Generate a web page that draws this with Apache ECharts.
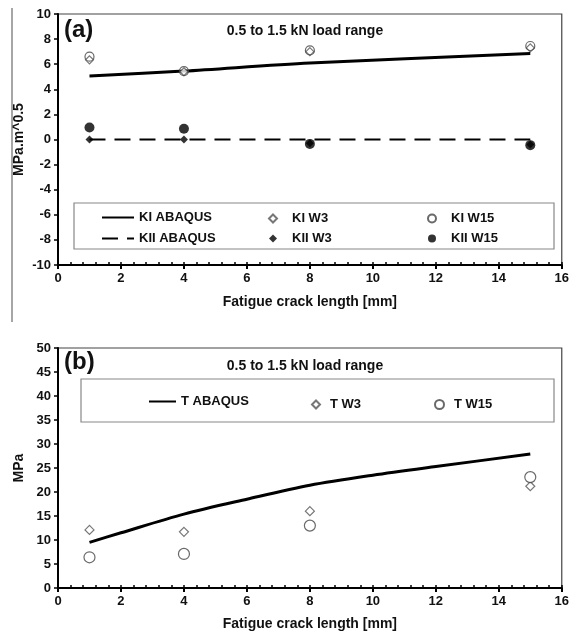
<!DOCTYPE html>
<html>
<head>
<meta charset="utf-8">
<script src="https://cdn.jsdelivr.net/npm/echarts@6/dist/echarts.min.js"></script>
<style>
html,body{margin:0;padding:0;background:#fff;}
#c{width:572px;height:635px;}
</style>
</head>
<body>
<div id="c"></div>
<script>
// ---- Data ----
const crackLen = [1, 4, 8, 15];
const kiAbaqus = [5.05, 5.45, 6.1, 6.85];
const kiW3 = [6.35, 5.4, 7.0, 7.3];
const kiW15 = [6.6, 5.45, 7.1, 7.45];
const kiiAbaqus = [0, 0, 0, 0];
const kiiW3 = [0, 0, -0.3, -0.4];
const kiiW15 = [0.95, 0.85, -0.35, -0.45];

const tAbaqusX = [1, 2, 4, 6, 8, 10, 12, 15];
const tAbaqus = [9.5, 11.5, 15.4, 18.5, 21.4, 23.5, 25.3, 27.9];
const tW3 = [12.1, 11.7, 16.0, 21.2];
const tW15 = [6.4, 7.1, 13.0, 23.1];

const subtitle = '0.5 to 1.5 kN load range';
const xTitle = 'Fatigue crack length [mm]';

const pair = (xs, ys) => xs.map((x, i) => [x, ys[i]]);
const FONT = '"Liberation Sans", Arial, sans-serif';
const tickLbl = {fontFamily: FONT, fontWeight: 'bold', fontSize: 13, color: '#111'};

function mainX(gi, name, gap) {
  return {
    type: 'value', gridIndex: gi, min: 0, max: 16, interval: 2,
    name: name, nameLocation: 'middle', nameGap: gap,
    nameTextStyle: {fontFamily: FONT, fontWeight: 'bold', fontSize: 14, color: '#111'},
    axisLine: {show: true, onZero: false, lineStyle: {color: '#000', width: 2}},
    axisTick: {show: true, length: 4, lineStyle: {color: '#000', width: 2}},
    axisLabel: Object.assign({margin: 7}, tickLbl),
    splitLine: {show: false}
  };
}
function minorX(gi) {
  return {
    type: 'value', gridIndex: gi, min: 0, max: 16, interval: 0.4, position: 'bottom',
    axisLine: {show: false, onZero: false}, axisLabel: {show: false},
    axisTick: {show: true, inside: true, length: 3, lineStyle: {color: '#000', width: 1.5}},
    splitLine: {show: false}
  };
}
function mainY(gi, min, max, interval, name, gap) {
  return {
    type: 'value', gridIndex: gi, min: min, max: max, interval: interval,
    name: name, nameLocation: 'middle', nameGap: gap, nameRotate: 90, nameMoveOverlap: false,
    nameTextStyle: {fontFamily: FONT, fontWeight: 'bold', fontSize: 14, color: '#111'},
    axisLine: {show: true, onZero: false, lineStyle: {color: '#000', width: 2}},
    axisTick: {show: true, length: 4, lineStyle: {color: '#000', width: 1.5}},
    axisLabel: Object.assign({margin: 7}, tickLbl),
    splitLine: {show: false}
  };
}

const openDiamond = {color: '#fff', borderColor: '#555', borderWidth: 1.2};
const openCircle = {color: '#fff', borderColor: '#444', borderWidth: 1.2};
const legText = {fontFamily: FONT, fontWeight: 'bold', fontSize: 13, color: '#111'};
const legTextPad = Object.assign({padding: [0, 0, 0, 10]}, legText);
const legTextPadB = Object.assign({padding: [0, 0, 0, 5]}, legText);
const noSym = {opacity: 0, borderWidth: 0};
const titleStyle = {fontFamily: FONT, fontWeight: 'bold', fontSize: 14, color: '#111'};

const chart = echarts.init(document.getElementById('c'), null, {renderer: 'canvas'});
chart.setOption({
  animation: false,
  backgroundColor: '#fff',
  grid: [
    {left: 58, top: 14, right: 8, height: 251, show: true, borderColor: '#444', borderWidth: 1.2, backgroundColor: 'transparent'},
    {left: 58, top: 348, right: 7, height: 240, show: true, borderColor: '#444', borderWidth: 1.2, backgroundColor: 'transparent'}
  ],
  title: [
    {text: subtitle, left: 300, top: 19, textAlign: 'center', textStyle: titleStyle},
    {text: subtitle, left: 300, top: 354, textAlign: 'center', textStyle: titleStyle}
  ],
  xAxis: [mainX(0, xTitle, 30), minorX(0), mainX(1, xTitle, 29), minorX(1)],
  yAxis: [mainY(0, -10, 10, 2, 'MPa.m^0.5', 32), mainY(1, 0, 50, 5, 'MPa', 32)],
  legend: [
    {data: ['KI ABAQUS', 'KII ABAQUS'], orient: 'vertical', left: 96, top: 206, itemWidth: 32, itemHeight: 14, itemGap: 8, itemStyle: noSym, textStyle: legText, selectedMode: false},
    {data: ['KI W3', 'KII W3'], orient: 'vertical', left: 263, top: 207, itemWidth: 8, itemHeight: 8, itemGap: 7, textStyle: legTextPad, selectedMode: false},
    {data: ['KI W15', 'KII W15'], orient: 'vertical', left: 422, top: 207, itemWidth: 8, itemHeight: 8, itemGap: 7, textStyle: legTextPad, selectedMode: false},
    {data: ['T ABAQUS'], left: 143, top: 390, itemWidth: 27, itemHeight: 14, itemStyle: noSym, textStyle: legText, selectedMode: false},
    {data: ['T W3'], left: 306, top: 393, itemWidth: 8, itemHeight: 8, textStyle: legTextPadB, selectedMode: false},
    {data: ['T W15'], left: 429, top: 393, itemWidth: 9, itemHeight: 9, textStyle: legTextPadB, selectedMode: false}
  ],
  graphic: [
    {type: 'line', shape: {x1: 12, y1: 8, x2: 12, y2: 322}, style: {stroke: '#888', lineWidth: 1.5}, z: 0},
    {type: 'rect', shape: {x: 74, y: 203, width: 480, height: 46}, style: {fill: '#fff', stroke: '#888', lineWidth: 1.2}, z: 1},
    {type: 'rect', shape: {x: 81, y: 379, width: 473, height: 43}, style: {fill: '#fff', stroke: '#888', lineWidth: 1.2}, z: 1},
    {type: 'text', left: 64, top: 18, style: {text: '(a)', font: 'bold 24px "Liberation Sans", Arial, sans-serif', fill: '#111'}, z: 5},
    {type: 'text', left: 64, top: 350, style: {text: '(b)', font: 'bold 24px "Liberation Sans", Arial, sans-serif', fill: '#111'}, z: 5}
  ],
  series: [
    {name: 'KI ABAQUS', type: 'line', xAxisIndex: 0, yAxisIndex: 0, data: pair(crackLen, kiAbaqus), showSymbol: false, symbol: 'none', smooth: 0.3, lineStyle: {color: '#000', width: 3}, itemStyle: {color: '#000'}, z: 3},
    {name: 'KII ABAQUS', type: 'line', xAxisIndex: 0, yAxisIndex: 0, data: pair(crackLen, kiiAbaqus), showSymbol: false, symbol: 'none', lineStyle: {color: '#000', width: 2, type: [16, 9]}, itemStyle: {color: '#000'}, z: 3},
    {name: 'KI W3', type: 'scatter', xAxisIndex: 0, yAxisIndex: 0, data: pair(crackLen, kiW3), symbol: 'diamond', symbolSize: 8, itemStyle: openDiamond, z: 4},
    {name: 'KI W15', type: 'scatter', xAxisIndex: 0, yAxisIndex: 0, data: pair(crackLen, kiW15), symbol: 'circle', symbolSize: 9, itemStyle: {color: 'rgba(255,255,255,0)', borderColor: '#444', borderWidth: 1.2}, z: 5},
    {name: 'KII W3', type: 'scatter', xAxisIndex: 0, yAxisIndex: 0, data: pair(crackLen, kiiW3), symbol: 'diamond', symbolSize: 8, itemStyle: {color: '#000'}, z: 4},
    {name: 'KII W15', type: 'scatter', xAxisIndex: 0, yAxisIndex: 0, data: pair(crackLen, kiiW15), symbol: 'circle', symbolSize: 10, itemStyle: {color: '#000'}, z: 4},
    {name: 'T ABAQUS', type: 'line', xAxisIndex: 2, yAxisIndex: 1, data: pair(tAbaqusX, tAbaqus), showSymbol: false, symbol: 'none', smooth: 0.3, lineStyle: {color: '#000', width: 3}, itemStyle: {color: '#000'}, z: 3},
    {name: 'T W3', type: 'scatter', xAxisIndex: 2, yAxisIndex: 1, data: pair(crackLen, tW3), symbol: 'diamond', symbolSize: 9, itemStyle: openDiamond, z: 4},
    {name: 'T W15', type: 'scatter', xAxisIndex: 2, yAxisIndex: 1, data: pair(crackLen, tW15), symbol: 'circle', symbolSize: 11, itemStyle: openCircle, z: 4}
  ]
});
</script>
</body>
</html>
